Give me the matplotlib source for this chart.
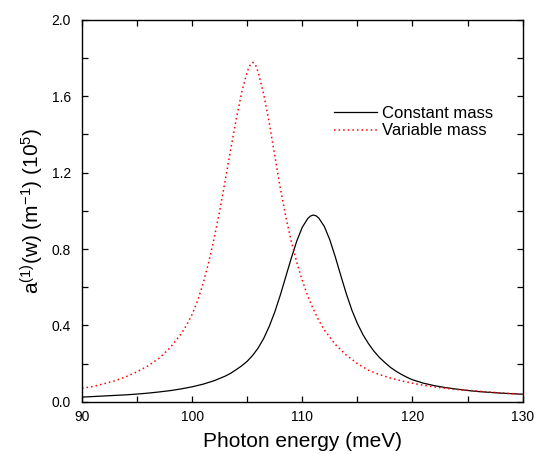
import numpy as np
import matplotlib
matplotlib.use('Agg')
import matplotlib.pyplot as plt
from matplotlib.ticker import MultipleLocator

plt.rcParams['font.family'] = ['Liberation Sans', 'DejaVu Sans']
plt.rcParams['mathtext.default'] = 'regular'

# values
x_const = [90, 92, 94, 95, 96, 97, 98, 99, 100, 101, 102, 103, 103.5, 104, 104.5,
           105, 105.5, 106, 106.5, 107, 107.5, 108, 108.5, 109, 109.5, 110, 110.5,
           110.75, 111, 111.25, 111.5, 112, 112.5, 113, 113.5, 114, 114.5, 115,
           115.5, 116, 116.5, 117, 117.5, 118, 118.5, 119, 119.5, 120, 121, 122,
           123, 124, 125, 126, 128, 130]
y_const = [0.024, 0.030, 0.036, 0.040, 0.045, 0.051, 0.058, 0.067, 0.078, 0.092,
           0.110, 0.134, 0.149, 0.168, 0.188, 0.212, 0.243, 0.282, 0.332, 0.395,
           0.470, 0.558, 0.655, 0.752, 0.842, 0.914, 0.960, 0.973, 0.978, 0.974,
           0.962, 0.918, 0.848, 0.758, 0.660, 0.565, 0.480, 0.410, 0.352, 0.305,
           0.265, 0.232, 0.205, 0.180, 0.160, 0.143, 0.128, 0.115, 0.097, 0.084,
           0.074, 0.066, 0.059, 0.053, 0.045, 0.039]

x_var = [90, 91, 92, 93, 94, 95, 96, 97, 98, 99, 99.5, 100, 100.5, 101, 101.5,
         102, 102.5, 103, 103.5, 104, 104.5, 105, 105.25, 105.5, 105.75, 106,
         106.5, 107, 107.5, 108, 108.5, 109, 109.5, 110, 110.5, 111, 111.5, 112,
         113, 114, 115, 116, 117, 118, 119, 120, 121, 122, 124, 126, 128, 130]
y_var = [0.070, 0.080, 0.094, 0.110, 0.131, 0.157, 0.188, 0.228, 0.283, 0.355,
         0.402, 0.458, 0.530, 0.620, 0.730, 0.857, 1.000, 1.160, 1.322, 1.480,
         1.622, 1.730, 1.762, 1.778, 1.765, 1.725, 1.610, 1.460, 1.290, 1.120,
         0.970, 0.840, 0.730, 0.635, 0.553, 0.485, 0.426, 0.376, 0.300, 0.244,
         0.200, 0.165, 0.142, 0.124, 0.109, 0.097, 0.086, 0.077, 0.064, 0.055,
         0.046, 0.039]

fig = plt.figure(figsize=(5.34, 4.54), dpi=100)
ax = fig.add_axes([0.1536, 0.1152, 0.825, 0.8408])

ax.plot(x_const, y_const, color='black', linewidth=0.9, label='Constant mass')
ax.plot(x_var, y_var, color='red', linestyle=(0, (1, 2)), linewidth=1.1,
        label='Variable mass')

ax.set_xlim(90, 130)
ax.set_ylim(0, 2.0)
ax.xaxis.set_major_locator(MultipleLocator(10))
ax.xaxis.set_minor_locator(MultipleLocator(5))
ax.yaxis.set_major_locator(MultipleLocator(0.4))
ax.yaxis.set_minor_locator(MultipleLocator(0.2))
ax.yaxis.set_major_formatter(plt.FormatStrFormatter('%.1f'))
ax.tick_params(which='both', direction='in', top=True, right=True,
               length=4, width=0.9, labelsize=10)
ax.tick_params(axis='x', pad=6)
ax.tick_params(axis='y', pad=8)
for s in ax.spines.values():
    s.set_linewidth(1.0)

ax.set_xlabel('Photon energy (meV)', fontsize=15, labelpad=6)
ax.set_ylabel(r'a$^{(1)}$(w) (m$^{-1}$) (10$^{5}$)', fontsize=15, labelpad=4)

ax.legend(loc='upper left', bbox_to_anchor=(0.572, 0.775), frameon=False,
          fontsize=12, handlelength=2.6, handletextpad=0.3, labelspacing=0.15,
          borderpad=0, borderaxespad=0)

fig.savefig('out.png', dpi=100)
